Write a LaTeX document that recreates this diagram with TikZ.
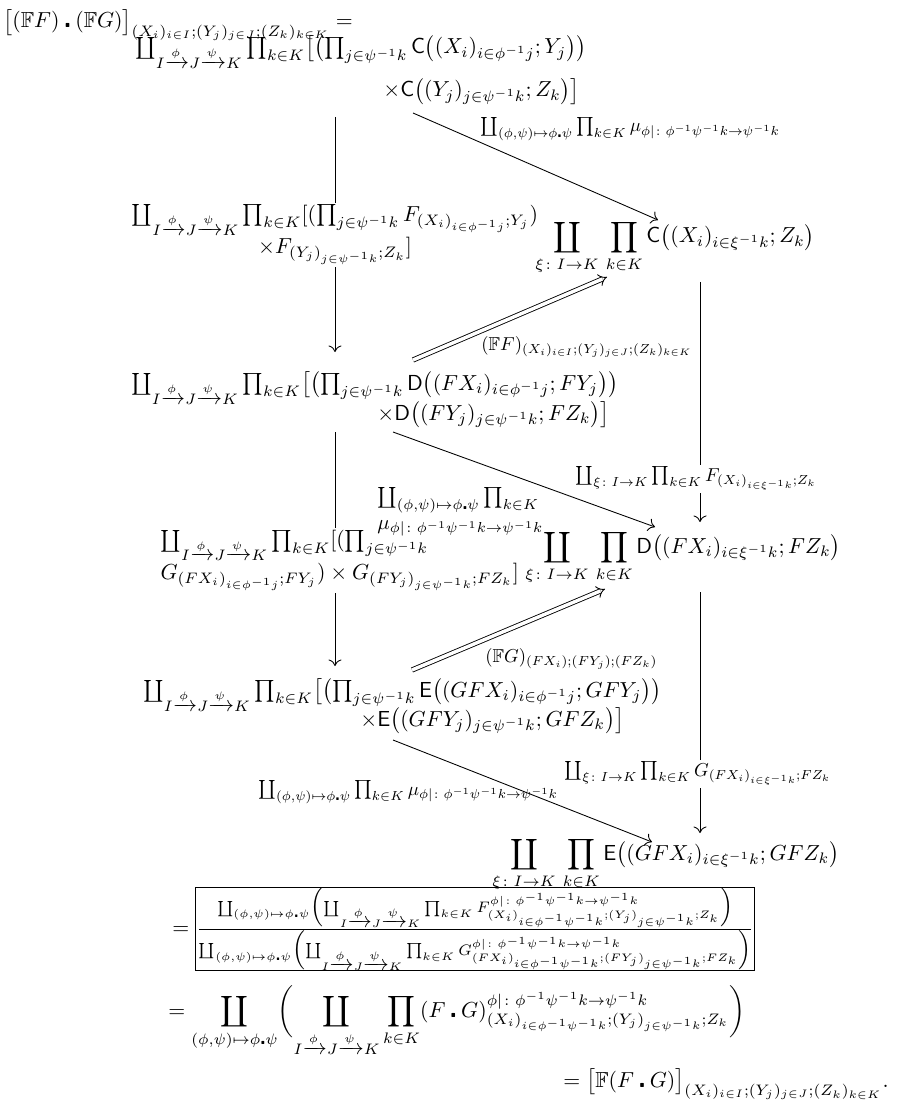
\documentclass[tikz,border=0pt]{standalone}
\usepackage{amsmath,amssymb,graphicx}
\usetikzlibrary{arrows.meta}
\newcommand{\ct}{\mathbin{\centerdot}}
\newcommand{\IJK}{I\xrightarrow{\phi}J\xrightarrow{\psi}K}
\newcommand{\mumap}{\phi|\colon\phi^{-1}\psi^{-1}k\to\psi^{-1}k}
\newcommand{\phipsi}{(\phi,\psi)\mapsto\phi\ct\psi}
\newcommand{\lsc}[1]{\scalebox{0.86}{$#1$}}
\setlength{\fboxsep}{0pt}
\begin{document}
\begin{tikzpicture}[x=0.46pt,y=-0.46pt,
  lbl/.style={inner sep=0pt, anchor=base west},
  cut/.style={fill=white, inner sep=1pt},
  arr/.style={-{To[length=3pt,width=6pt]}, line width=0.4pt},
  dbl/.style={double, double distance=1.6pt, -{Implies}, line width=0.4pt}]
\useasboundingbox (0,0) rectangle (909,1108);

% coordinates for connectors
\coordinate (v1s) at (335,117); \coordinate (v1e) at (335,352);
\coordinate (v2s) at (335,432); \coordinate (v2e) at (335,666);
\coordinate (r1s) at (700,282); \coordinate (r1e) at (700,522);
\coordinate (r2s) at (700,592); \coordinate (r2e) at (700,833);
\coordinate (d1s) at (413,113); \coordinate (d1e) at (658,220);
\coordinate (d2s) at (393,432); \coordinate (d2e) at (655,527);
\coordinate (d3s) at (393,740); \coordinate (d3e) at (652,842);
\coordinate (e1s) at (413,360); \coordinate (e1e) at (607,277);
\coordinate (e2s) at (412,670); \coordinate (e2e) at (605,589);

\draw[arr] (v1s) -- (v1e);
\draw[arr] (v2s) -- (v2e);
\draw[arr] (r1s) -- (r1e);
\draw[arr] (r2s) -- (r2e);
\draw[arr] (d1s) -- (d1e);
\draw[arr] (d2s) -- (d2e);
\draw[arr] (d3s) -- (d3e);
\draw[dbl] (e1s) -- (e1e);
\draw[dbl] (e2s) -- (e2e);

\node[lbl] (title) at (3,28) {$\bigl[(\mathbb{F}F)\ct(\mathbb{F}G)\bigr]_{(X_i)_{i\in I};(Y_j)_{j\in J};(Z_k)_{k\in K}} =$};

\node[lbl] (a1) at (135,54) {$\coprod_{\IJK}\prod_{k\in K}\bigl[\bigl(\prod_{j\in\psi^{-1}k}\mathsf{C}\bigl((X_i)_{i\in\phi^{-1}j};Y_j\bigr)\bigr)$};
\node[lbl] (a1b) at (383,97) {$\times\mathsf{C}\bigl((Y_j)_{j\in\psi^{-1}k};Z_k\bigr)\bigr]$};

\node[lbl] (m1) at (480,132) {\lsc{\coprod_{\phipsi}\prod_{k\in K}\mu_{\mumap}}};

\node[cut, align=center] (lf) at (335,235) {$\coprod_{\IJK}\prod_{k\in K}[(\prod_{j\in\psi^{-1}k}F_{(X_i)_{i\in\phi^{-1}j};Y_j})$\\$\times F_{(Y_j)_{j\in\psi^{-1}k};Z_k}]$};

\node[lbl] (b1) at (535,243) {$\displaystyle\coprod_{\xi\colon I\to K}\,\prod_{k\in K}\mathsf{C}\bigl((X_i)_{i\in\xi^{-1}k};Z_k\bigr)$};

\node[lbl] (ff) at (481,350) {\lsc{(\mathbb{F}F)_{(X_i)_{i\in I};(Y_j)_{j\in J};(Z_k)_{k\in K}}}};

\node[lbl] (a2) at (131,390) {$\coprod_{\IJK}\prod_{k\in K}\bigl[\bigl(\prod_{j\in\psi^{-1}k}\mathsf{D}\bigl((FX_i)_{i\in\phi^{-1}j};FY_j\bigr)\bigr)$};
\node[lbl] (a2b) at (377,420) {$\times\mathsf{D}\bigl((FY_j)_{j\in\psi^{-1}k};FZ_k\bigr)\bigr]$};

\node[cut, anchor=base west] (rf) at (573,481) {\lsc{\coprod_{\xi\colon I\to K}\prod_{k\in K}F_{(X_i)_{i\in\xi^{-1}k};Z_k}}};

\node[cut, align=left, anchor=north west] (lg) at (158,528) {$\coprod_{\IJK}\prod_{k\in K}[(\prod_{j\in\psi^{-1}k}$\\$G_{(FX_i)_{i\in\phi^{-1}j};FY_j})\times G_{(FY_j)_{j\in\psi^{-1}k};FZ_k}]$};

\node[inner sep=0pt, align=left, anchor=north west] (m2) at (377,487) {\scalebox{0.95}{$\coprod_{\phipsi}\prod_{k\in K}$}\\\scalebox{0.95}{$\mu_{\mumap}$}};

\node[lbl] (b2) at (525,553) {$\displaystyle\coprod_{\xi\colon I\to K}\,\prod_{k\in K}\mathsf{D}\bigl((FX_i)_{i\in\xi^{-1}k};FZ_k\bigr)$};

\node[lbl] (fg) at (485,662) {\lsc{(\mathbb{F}G)_{(FX_i);(FY_j);(FZ_k)}}};

\node[lbl] (a3) at (143,697) {$\coprod_{\IJK}\prod_{k\in K}\bigl[\bigl(\prod_{j\in\psi^{-1}k}\mathsf{E}\bigl((GFX_i)_{i\in\phi^{-1}j};GFY_j\bigr)\bigr)$};
\node[lbl] (a3b) at (360,726) {$\times\mathsf{E}\bigl((GFY_j)_{j\in\psi^{-1}k};GFZ_k\bigr)\bigr]$};

\node[cut, anchor=base west] (rg) at (562,776) {\lsc{\coprod_{\xi\colon I\to K}\prod_{k\in K}G_{(FX_i)_{i\in\xi^{-1}k};FZ_k}}};

\node[lbl] (m3) at (258,795) {\lsc{\coprod_{\phipsi}\prod_{k\in K}\mu_{\mumap}}};

\node[lbl] (b3) at (492,860) {$\displaystyle\coprod_{\xi\colon I\to K}\,\prod_{k\in K}\mathsf{E}\bigl((GFX_i)_{i\in\xi^{-1}k};GFZ_k\bigr)$};

\node[inner sep=0pt, anchor=west] (fr) at (172,929) {$=\fbox{$\frac{\coprod_{\phipsi}\Bigl(\coprod_{\IJK}\prod_{k\in K}F^{\mumap}_{(X_i)_{i\in\phi^{-1}\psi^{-1}k};(Y_j)_{j\in\psi^{-1}k};Z_k}\Bigr)}{\coprod_{\phipsi}\Bigl(\coprod_{\IJK}\prod_{k\in K}G^{\mumap}_{(FX_i)_{i\in\phi^{-1}\psi^{-1}k};(FY_j)_{j\in\psi^{-1}k};FZ_k}\Bigr)}$}$};

\node[lbl] (ln) at (168,1017) {$=\displaystyle\coprod_{\phipsi}\biggl(\coprod_{\IJK}\prod_{k\in K}(F\ct G)^{\mumap}_{(X_i)_{i\in\phi^{-1}\psi^{-1}k};(Y_j)_{j\in\psi^{-1}k};Z_k}\biggr)$};

\node[lbl] (fin) at (563,1087) {$=\bigl[\mathbb{F}(F\ct G)\bigr]_{(X_i)_{i\in I};(Y_j)_{j\in J};(Z_k)_{k\in K}}.$};
\end{tikzpicture}
\end{document}
